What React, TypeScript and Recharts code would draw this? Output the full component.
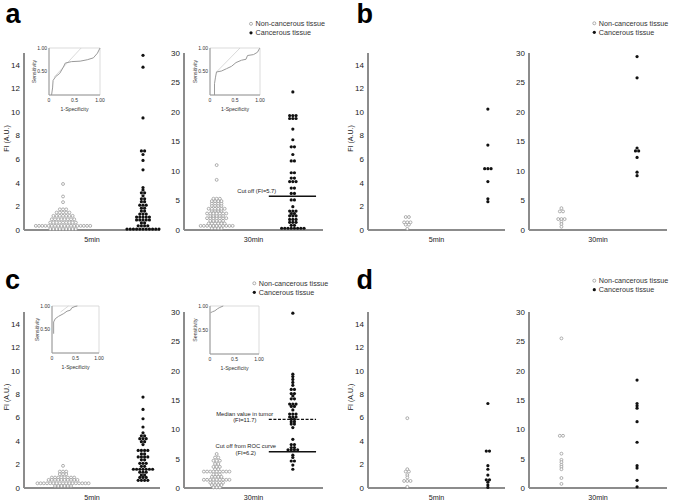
import React from 'react';
import { ScatterChart, Scatter, XAxis, YAxis, ReferenceLine, LineChart, Line, ReferenceArea } from 'recharts';

const FONT = '"Liberation Sans", Arial, sans-serif';

// ---------- data (FI values, A.U.) ----------
// Panel a
const a5Non = [0.08,0.08,0.08,0.08,0.08,0.08,0.08,0.08,0.08,
  0.35,0.35,0.35,0.35,0.35,0.35,0.35,0.35,0.35,0.35,0.35,0.35,0.35,0.35,0.35,0.35,0.35,0.35,
  0.63,0.63,0.63,0.63,0.63,0.63,0.63,0.63,0.63,
  0.91,0.91,0.91,0.91,0.91,0.91,0.91,0.91,
  1.2,1.2,1.2,1.2,1.2,1.2,1.2,
  1.48,1.48,1.48,1.48,1.48,
  1.75,1.75,1.75,
  2.36,2.84,3.9];
const a5Can = [0.08,0.08,0.08,0.08,0.08,0.08,0.08,0.08,0.08,0.08,0.08,
  0.35,0.35,0.35,0.35,0.6,0.6,0.85,0.85,0.85,0.85,0.85,1.1,1.1,1.1,1.1,1.1,
  1.35,1.35,1.35,1.6,1.6,1.85,1.85,2.1,2.1,2.1,2.4,2.4,2.65,2.65,2.9,3.15,3.15,3.4,3.6,
  5.1,5.9,6.4,6.7,6.7,9.5,13.8,14.8];
const a30Non = [0.3,0.3,0.3,0.3,
  0.7,0.7,0.7,0.7,0.7,0.7,0.7,0.7,0.7,0.7,0.7,
  1.1,1.1,1.1,1.1,1.1,1.1,1.55,1.55,1.55,1.55,1.55,
  2.0,2.0,2.0,2.0,2.0,2.0,2.0,2.4,2.4,2.4,2.4,2.4,
  2.8,2.8,2.8,2.8,2.8,2.8,2.8,3.25,3.25,3.25,3.25,
  3.6,3.6,3.6,3.6,3.6,3.6,4.1,4.1,4.1,4.1,4.5,4.5,4.5,4.5,
  4.9,4.9,4.9,4.9,5.3,5.3,5.3,8.5,11];
const a30Can = [0.3,0.3,0.3,0.3,0.3,0.3,0.3,0.3,0.8,0.8,1.3,1.3,1.3,1.8,1.8,1.8,
  2.4,2.4,2.4,2.8,2.8,3.2,3.2,3.2,3.95,5.1,5.1,6.2,6.2,7.1,7.1,8.2,8.2,8.2,8.8,8.8,
  9.7,9.7,11.7,11.7,12.8,14.1,14.1,15.3,17.1,18.9,18.9,18.9,19.4,19.4,19.4,23.4];
// Panel b
const b5Non = [1.1,1.1,0.65,0.65,0.65,0.45,0.45,0.1];
const b5Can = [10.25,7.2,5.2,5.2,5.2,4.1,2.65,2.4];
const b30Non = [3.7,3.15,3.15,1.85,1.85,1.85,1.4,1.0,0.55];
const b30Can = [29.4,25.8,13.9,13.4,13.4,12.3,9.8,9.2];
// Panel c
const c5Non = [1.89,1.4,1.4,1.4,1.18,1.18,1.18,
  0.89,0.89,0.89,0.89,0.89,0.89,0.89,0.89,
  0.69,0.69,0.69,0.69,0.69,0.69,0.69,0.69,0.69,0.69,
  0.4,0.4,0.4,0.4,0.4,0.4,0.4,0.4,0.4,0.4,0.4,0.4,0.4,0.4,0.4,0.4,0.4,
  0.17,0.17,0.17,0.17,0.17,0.17];
const c5Can = [7.75,6.7,5.9,5.2,4.7,4.45,4.45,4.2,4.2,4.2,3.95,3.95,3.7,
  3.2,3.2,3.2,3.2,2.9,2.9,2.65,2.65,2.65,2.65,2.4,2.4,2.1,2.1,2.1,1.85,1.85,
  1.6,1.6,1.6,1.6,1.6,1.6,1.6,1.35,1.35,1.35,1.1,1.1,0.9,0.9,0.9,0.65,0.65,0.65,0.65];
const c30Non = [5.8,5.2,5.2,4.65,4.65,4.65,4.1,4.1,3.6,3.6,3.6,3.2,3.2,
  2.8,2.8,2.8,2.8,2.8,2.8,2.8,2.8,2.8,2.3,2.3,2.3,1.9,1.9,1.9,1.9,
  1.4,1.4,1.4,1.4,1.4,1.4,1.4,1.4,1.4,0.9,0.9,0.9,0.9,0.9,0.5,0.5,0.5,0.5,0.1,0.1,0.1];
const c30Can = [29.8,19.4,19.0,18.5,18.0,17.5,16.8,16.8,16.1,16.1,15.7,15.2,15.2,
  14.3,14.3,14.3,13.9,13.9,13.3,12.6,12.6,12.6,12.1,12.1,12.1,11.7,11.7,11.3,11.3,
  10.9,10.9,10.3,8.3,7.4,7.4,6.9,6.9,6.5,6.5,6.5,6.5,5.6,5.2,4.6,4.6,3.9,3.2];
// Panel d
const d5Non = [5.95,1.6,1.4,1.4,1.1,0.9,0.6,0.6,0.6,0.1];
const d5Can = [7.2,3.15,3.15,1.9,1.6,1.1,0.7,0.7,0.5,0.25,0.05];
const d30Non = [25.5,8.9,8.9,5.85,4.8,4.4,3.95,3.6,3.2,1.7,0.7];
const d30Can = [18.4,14.4,14.0,13.6,11.3,7.8,3.8,3.4,1.3,0.2];

// ROC curves (1-specificity, sensitivity)
const rocA5Fpr = [0.05,0.07,0.08,0.13,0.21,0.28,0.32,0.44,0.61,0.75,0.87,0.95,1.0];
const rocA5Tpr = [0,0.15,0.31,0.39,0.46,0.59,0.68,0.71,0.72,0.75,0.79,0.89,1.0];
const rocA30Fpr = [0.09,0.09,0.11,0.13,0.23,0.33,0.43,0.52,0.63,0.72,0.75,0.87,0.95,0.99,1.0];
const rocA30Tpr = [0,0.24,0.38,0.49,0.51,0.56,0.61,0.69,0.74,0.76,0.84,0.86,0.91,0.99,1.0];
const rocC5Fpr = [0.035,0.035,0.07,0.14,0.25,0.32,0.39,0.42,0.49,0.54];
const rocC5Tpr = [0.41,0.66,0.73,0.78,0.84,0.89,0.91,0.96,0.99,1.0];
const rocC30Fpr = [0.01,0.05,0.1,0.15,0.2,0.27];
const rocC30Tpr = [0.86,0.88,0.9,0.94,0.97,1.0];

const ticks5 = [0, 2, 4, 6, 8, 10, 12, 14];
const ticks30 = [0, 5, 10, 15, 20, 25, 30];
const rocXTicks = [0, 0.5, 1];
const rocYTicks = [0.5, 1];
const legendLabels = ['Non-cancerous tissue', 'Cancerous tissue'];

// ---------- layout ----------
const ROWS = [{ top: 53, h: 177 }, { top: 312, h: 176 }];
const COLS = [{ left: 24, w: 136 }, { left: 184, w: 139 }, { left: 368, w: 137 }, { left: 529, w: 138 }];
const CENTERS_5 = [0.287, 0.875];
const CENTERS_30 = [0.235, 0.783];

const AXIS = '#8c8c8c';

function swarm(vals: number[], center: number, plotW: number, spacing = 3.2) {
  const groups = new Map<number, number>();
  vals.forEach((v) => groups.set(v, (groups.get(v) || 0) + 1));
  const out: { x: number; y: number }[] = [];
  groups.forEach((n, v) => {
    for (let i = 0; i < n; i++) out.push({ x: center + ((i - (n - 1) / 2) * spacing) / plotW, y: v });
  });
  return out;
}

const OpenDot = (p: any) => (
  <circle cx={p.cx} cy={p.cy} r={1.45} fill="#fff" stroke="#9a9a9a" strokeWidth={0.8} />
);
const FillDot = (p: any) => <circle cx={p.cx} cy={p.cy} r={1.6} fill="#111" />;

function DotPanel(props: any) {
  const { col, row, yMax, ticks, xLabel, showYLabel, non, can, centers, children } = props;
  const YW = 30, MT = 8, MR = 4, XH = 14;
  const plotW = col.w, plotH = row.h;
  const width = YW + plotW + MR;
  const height = MT + plotH + XH;
  const nonPts = swarm(non, centers[0], plotW);
  const canPts = swarm(can, centers[1], plotW);
  return (
    <div style={{ position: 'absolute', left: col.left - YW, top: row.top - MT }}>
      <ScatterChart width={width} height={height} margin={{ top: MT, right: MR, bottom: 0, left: 0 }}>
        <XAxis
          type="number"
          dataKey="x"
          domain={[0, 1]}
          tick={false}
          tickLine={false}
          axisLine={{ stroke: AXIS, strokeWidth: 2 }}
          height={XH}
          label={{
            content: (lp: any) => {
              const vb = lp.viewBox || {};
              return (
                <text x={vb.x + vb.width / 2} y={vb.y + 11.8} textAnchor="middle" fontSize={7.2} fill="#222" fontFamily={FONT}>
                  {xLabel}
                </text>
              );
            },
          }}
        />
        <YAxis
          type="number"
          dataKey="y"
          domain={[0, yMax]}
          ticks={ticks}
          interval={0}
          width={YW}
          tickLine={false}
          tickSize={0}
          tickMargin={4}
          axisLine={{ stroke: AXIS, strokeWidth: 2 }}
          tick={{ fontSize: 8, fill: '#222', fontFamily: FONT }}
          label={
            showYLabel
              ? {
                  content: (lp: any) => {
                    const vb = lp.viewBox || {};
                    const cx = vb.x + vb.width - 18;
                    const cy = vb.y + vb.height / 2 - 3;
                    return (
                      <text x={cx} y={cy} transform={`rotate(-90 ${cx} ${cy})`} textAnchor="middle" dominantBaseline="central" fontSize={7} fill="#222" fontFamily={FONT}>
                        FI (A.U.)
                      </text>
                    );
                  },
                }
              : undefined
          }
        />
        <Scatter data={nonPts} shape={OpenDot} isAnimationActive={false} />
        <Scatter data={canPts} shape={FillDot} isAnimationActive={false} />
        {children}
      </ScatterChart>
    </div>
  );
}

function RocInset(props: any) {
  const { L, T, W, H, fpr, tpr, diag } = props;
  const YW = 24, MT = 4, MR = 6, XH = 20;
  const data = fpr.map((x: number, i: number) => ({ x, y: tpr[i] }));
  const fmtX = (v: number) => (v === 0 ? '0' : v === 0.5 ? '0.5' : '1.00');
  const fmtY = (v: number) => (v === 0.5 ? '0.50' : '1.00');
  return (
    <div style={{ position: 'absolute', left: L - YW, top: T - MT }}>
      <LineChart width={YW + W + MR} height={MT + H + XH} data={data} margin={{ top: MT, right: MR, bottom: 0, left: 0 }}>
        <ReferenceArea x1={0} x2={1} y1={0} y2={1} fill="none" fillOpacity={0} stroke="#d2d2d2" strokeWidth={0.8} />
        <XAxis
          type="number"
          dataKey="x"
          domain={[0, 1]}
          ticks={rocXTicks}
          interval={0}
          tickFormatter={fmtX}
          tickLine={false}
          tickSize={0}
          tickMargin={3}
          height={XH}
          axisLine={{ stroke: '#9a9a9a', strokeWidth: 1 }}
          tick={{ fontSize: 5, fill: '#333', fontFamily: FONT }}
          label={{
            content: (lp: any) => {
              const vb = lp.viewBox || {};
              return (
                <text x={vb.x + vb.width / 2} y={vb.y + 16} textAnchor="middle" fontSize={5.2} fill="#333" fontFamily={FONT}>
                  1-Specificity
                </text>
              );
            },
          }}
        />
        <YAxis
          type="number"
          domain={[0, 1]}
          ticks={rocYTicks}
          interval={0}
          tickFormatter={fmtY}
          tickLine={false}
          tickSize={0}
          tickMargin={2}
          width={YW}
          axisLine={{ stroke: '#9a9a9a', strokeWidth: 1 }}
          tick={{ fontSize: 5, fill: '#333', fontFamily: FONT }}
          label={{
            content: (lp: any) => {
              const vb = lp.viewBox || {};
              const cx = vb.x + vb.width - 15;
              const cy = vb.y + vb.height / 2;
              return (
                <text x={cx} y={cy} transform={`rotate(-90 ${cx} ${cy})`} textAnchor="middle" dominantBaseline="central" fontSize={5.2} fill="#333" fontFamily={FONT}>
                  Sensitivity
                </text>
              );
            },
          }}
        />
        {diag ? (
          <ReferenceLine segment={[{ x: diag[0], y: diag[1] }, { x: diag[2], y: diag[3] }]} stroke="#d0d0d0" strokeWidth={0.8} />
        ) : null}
        <Line type="linear" dataKey="y" stroke="#9a9a9a" strokeWidth={1} dot={false} isAnimationActive={false} />
      </LineChart>
    </div>
  );
}

function lineLabel(lines: string[], dx: number, dys: number[], anchor: string) {
  return (lp: any) => {
    const vb = lp.viewBox || {};
    return (
      <g>
        {lines.map((t, i) => (
          <text key={i} x={vb.x + dx} y={vb.y + dys[i]} textAnchor={anchor} fontSize={5.8} fill="#222" fontFamily={FONT}>
            {t}
          </text>
        ))}
      </g>
    );
  };
}

function Legend(props: any) {
  const { x, y } = props;
  return (
    <g fontFamily={FONT} fontSize={7.2} fill="#333">
      <circle cx={x} cy={y} r={1.5} fill="#fff" stroke="#9a9a9a" strokeWidth={0.8} />
      <text x={x + 4.5} y={y + 2.6}>{legendLabels[0]}</text>
      <circle cx={x} cy={y + 9} r={1.6} fill="#111" />
      <text x={x + 4.5} y={y + 11.6}>{legendLabels[1]}</text>
    </g>
  );
}

export default function App() {
  return (
    <div style={{ position: 'absolute', left: 0, top: 0, width: 675, height: 501, background: '#fff', overflow: 'hidden' }}>
      {/* a */}
      <DotPanel col={COLS[0]} row={ROWS[0]} yMax={15} ticks={ticks5} xLabel="5min" showYLabel non={a5Non} can={a5Can} centers={CENTERS_5} />
      <DotPanel col={COLS[1]} row={ROWS[0]} yMax={30} ticks={ticks30} xLabel="30min" non={a30Non} can={a30Can} centers={CENTERS_30}>
        <ReferenceLine
          segment={[{ x: 0.61, y: 5.7 }, { x: 0.95, y: 5.7 }]}
          stroke="#111"
          strokeWidth={1.5}
          label={lineLabel(['Cut off (FI=5.7)'], 7.5, [-3], 'end')}
        />
      </DotPanel>
      {/* b */}
      <DotPanel col={COLS[2]} row={ROWS[0]} yMax={15} ticks={ticks5} xLabel="5min" showYLabel non={b5Non} can={b5Can} centers={CENTERS_5} />
      <DotPanel col={COLS[3]} row={ROWS[0]} yMax={30} ticks={ticks30} xLabel="30min" non={b30Non} can={b30Can} centers={CENTERS_30} />
      {/* c */}
      <DotPanel col={COLS[0]} row={ROWS[1]} yMax={15} ticks={ticks5} xLabel="5min" showYLabel non={c5Non} can={c5Can} centers={CENTERS_5} />
      <DotPanel col={COLS[1]} row={ROWS[1]} yMax={30} ticks={ticks30} xLabel="30min" non={c30Non} can={c30Can} centers={CENTERS_30}>
        <ReferenceLine
          segment={[{ x: 0.61, y: 11.7 }, { x: 0.95, y: 11.7 }]}
          stroke="#111"
          strokeWidth={1.2}
          strokeDasharray="3 1.6"
          label={lineLabel(['Median value in tumor', '(FI=11.7)'], -24, [-3.4, 2.8], 'middle')}
        />
        <ReferenceLine
          segment={[{ x: 0.61, y: 6.2 }, { x: 0.95, y: 6.2 }]}
          stroke="#111"
          strokeWidth={1.5}
          label={lineLabel(['Cut off from ROC curve', '(FI=6.2)'], -23, [-3.3, 3.2], 'middle')}
        />
      </DotPanel>
      {/* d */}
      <DotPanel col={COLS[2]} row={ROWS[1]} yMax={15} ticks={ticks5} xLabel="5min" showYLabel non={d5Non} can={d5Can} centers={CENTERS_5} />
      <DotPanel col={COLS[3]} row={ROWS[1]} yMax={30} ticks={ticks30} xLabel="30min" non={d30Non} can={d30Can} centers={CENTERS_30} />

      {/* ROC insets */}
      <RocInset L={49} T={48} W={51} H={47} fpr={rocA5Fpr} tpr={rocA5Tpr} diag={[0.1, 0.38, 0.63, 1]} />
      <RocInset L={210} T={48} W={50} H={47} fpr={rocA30Fpr} tpr={rocA30Tpr} diag={[0.13, 0.49, 0.6, 1]} />
      <RocInset L={52} T={306} W={47} H={47} fpr={rocC5Fpr} tpr={rocC5Tpr} diag={[0.18, 0.87, 0.35, 1]} />
      <RocInset L={210} T={306} W={49} H={48} fpr={rocC30Fpr} tpr={rocC30Tpr} />

      {/* panel letters and legends */}
      <svg width={675} height={501} style={{ position: 'absolute', left: 0, top: 0, pointerEvents: 'none' }}>
        <g fontFamily={FONT} fontWeight="bold" fontSize={27} fill="#000">
          <text x={5.5} y={22.7}>a</text>
          <text x={356.5} y={22.7}>b</text>
          <text x={5} y={288.5}>c</text>
          <text x={356.5} y={289}>d</text>
        </g>
        <Legend x={251} y={23.8} />
        <Legend x={594.3} y={23.3} />
        <Legend x={254.3} y={283.3} />
        <Legend x={594.3} y={280.7} />
      </svg>
    </div>
  );
}
